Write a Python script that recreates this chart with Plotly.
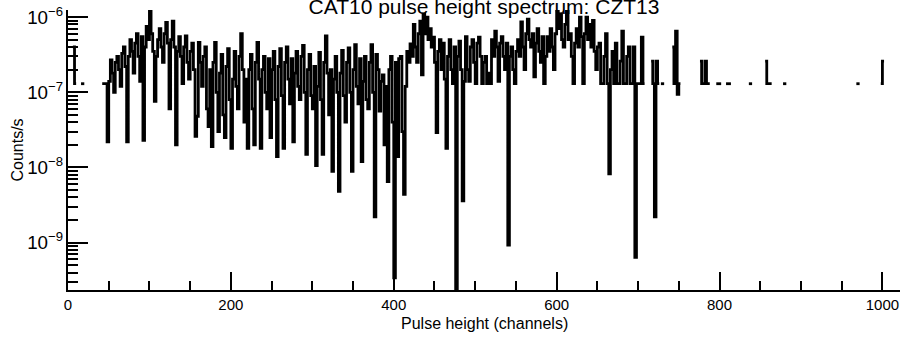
import plotly.graph_objects as go

# Pulse-height bins: start channel (bin width 2 channels) and rate in units of 1e-8 counts/s
BIN_WIDTH = 2
channels = ([6, 8, 16, 18, 42, 44, 46]
            + list(range(48, 708, 2))
            + [716, 718, 720, 722, 724, 728, 730, 742, 744, 746, 748, 750,
               776, 778, 780, 782, 784, 786, 796, 798, 800, 808, 810, 812,
               836, 838, 856, 858, 860, 862, 878, 880, 968, 970, 998, 1000])

rate_e8 = [
    40, 13, 13, 13, 13, 13, 13,
    # 48-86
    2.2, 14, 27, 18, 10, 25, 30, 20, 12, 33, 40, 22, 2.2, 30, 50, 35, 18, 45, 60, 30,
    # 88-126
    14, 55, 2.3, 40, 75, 50, 128, 60, 35, 7.6, 30, 50, 70, 40, 25, 60, 85, 45, 6, 50,
    # 128-166
    88, 40, 2, 35, 55, 30, 13, 40, 56, 25, 15, 35, 45, 20, 2.6, 4.8, 46, 25, 12, 30,
    # 168-206
    40, 6, 3.5, 20, 1.9, 25, 46, 10, 3, 18, 32, 5, 2.5, 22, 38, 8, 1.8, 15, 35, 12,
    # 208-246
    6, 30, 60, 20, 4, 15, 1.8, 20, 32, 6, 2, 25, 46, 15, 1.8, 20, 30, 10, 6, 28,
    # 248-286
    2.5, 20, 35, 8, 1.4, 22, 38, 9, 1.8, 25, 40, 15, 7, 28, 2.2, 18, 35, 12, 8, 30,
    # 288-326
    42, 10, 1.5, 20, 32, 9, 6, 22, 1.06, 12, 34, 8, 1.5, 25, 56, 18, 5, 20, 0.89, 15,
    # 328-366
    30, 10, 0.48, 18, 36, 9, 4, 25, 39, 10, 0.89, 20, 43, 12, 7, 28, 1.2, 14, 30, 8,
    # 368-406
    6, 25, 43, 10, 0.22, 32, 20, 5.6, 14, 17, 2, 12, 0.65, 20, 30, 4, 0.034, 25, 1.4, 28,
    # 408-446
    30, 3, 0.44, 12, 35, 25, 44, 30, 80, 40, 25, 60, 88, 17, 110, 60, 100, 50, 70, 40,
    # 448-486
    54, 25, 2.9, 35, 50, 20, 45, 15, 1.8, 30, 50, 20, 13, 40, 0.01, 30, 48, 20, 0.36, 14,
    # 488-526
    55, 20, 14, 40, 50, 25, 13, 45, 54, 30, 13, 25, 30, 13, 18, 13, 50, 30, 65, 40,
    # 528-566
    14, 45, 55, 30, 20, 45, 0.093, 30, 40, 20, 13, 35, 50, 30, 86, 40, 20, 60, 94, 50,
    # 568-606
    40, 60, 16, 45, 70, 35, 25, 55, 13, 30, 55, 35, 70, 40, 20, 60, 120, 70, 110, 50,
    # 608-646
    40, 80, 120, 50, 60, 30, 13, 45, 70, 40, 100, 55, 13, 60, 100, 50, 80, 40, 90, 35,
    # 648-686
    20, 40, 45, 13, 13, 30, 60, 13, 0.82, 20, 35, 13, 45, 13, 13, 26, 65, 13, 13, 30,
    # 688-706
    40, 13, 13, 40, 0.064, 13, 13, 13, 54, 13,
    # 716-750
    26, 13, 0.22, 26, 13, 13, 13, 40, 13, 65, 9.4, 13,
    # sparse tail
    26, 13, 13, 26, 13, 13, 13, 13, 13, 13, 13, 13,
    13, 13, 26, 13, 13, 13, 13, 13, 13, 13, 13, 26,
]

SCALE = 1e-8
X_RANGE = [0, 1021.6]

# Build the histogram step path from the bins (gaps where bins are empty)
xs, ys = [], []
prev_end = None
for c, v in zip(channels, rate_e8):
    if prev_end is not None and c != prev_end:
        xs.append(None)
        ys.append(None)
    xs += [c, c + BIN_WIDTH]
    ys += [v * SCALE, v * SCALE]
    prev_end = c + BIN_WIDTH

FONT = "Arial, Liberation Sans, sans-serif"

fig = go.Figure()
fig.add_trace(go.Scatter(x=xs, y=ys, mode="lines",
                         line=dict(color="black", width=2.8)))
# empty trace that carries the overlay axis used for the 50-channel minor ticks
fig.add_trace(go.Scatter(x=[None], y=[None], xaxis="x2", mode="lines",
                         showlegend=False, hoverinfo="skip"))

fig.update_layout(
    width=904, height=338,
    margin=dict(l=68, r=4, t=10, b=48),
    plot_bgcolor="white",
    showlegend=False,
    font=dict(family=FONT, size=15, color="black"),
    title=dict(text="CAT10 pulse height spectrum: CZT13",
               font=dict(family=FONT, size=21, color="black"),
               x=0.5, xref="paper", xanchor="center",
               y=1 - 7 / 338, yref="container", yanchor="middle"),
    xaxis=dict(
        range=X_RANGE, dtick=200,
        ticks="inside", ticklen=18, tickwidth=2, tickcolor="black",
        showline=True, linecolor="black", linewidth=2,
        showgrid=False, zeroline=False,
    ),
    xaxis2=dict(
        range=X_RANGE, dtick=50, overlaying="x", anchor="y", side="bottom",
        ticks="inside", ticklen=9, tickwidth=2, tickcolor="black",
        showticklabels=False, showline=False, showgrid=False, zeroline=False,
    ),
    yaxis=dict(
        type="log", range=[-9.629, -5.906], dtick=1,
        exponentformat="power",
        ticks="inside", ticklen=20, tickwidth=2, tickcolor="black",
        showline=True, linecolor="black", linewidth=2,
        showgrid=False, zeroline=False,
        minor=dict(dtick="D1", ticks="inside", ticklen=10, tickwidth=2, tickcolor="black"),
        tickfont=dict(size=15, family=FONT, color="black"),
        title=dict(text="Counts/s",
                   font=dict(size=16, family=FONT, color="black"), standoff=0),
    ),
    annotations=[dict(text="Pulse height (channels)", xref="paper", yref="paper",
                      x=0.5, y=-33 / 280, xanchor="center", yanchor="middle",
                      showarrow=False,
                      font=dict(size=16, family=FONT, color="black"))],
)

fig.write_html("out.html", config={"displayModeBar": False},
               post_script="document.body.style.margin='0';")
